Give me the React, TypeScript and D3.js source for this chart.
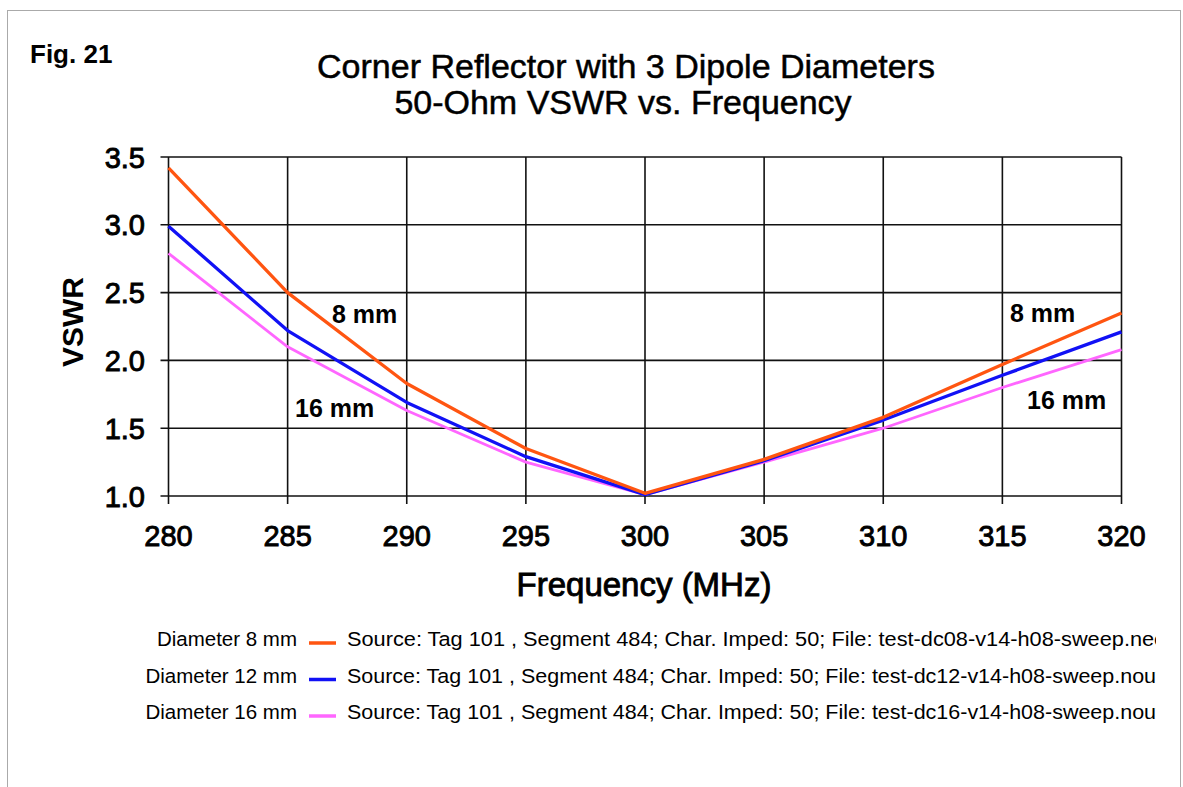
import React from "react";
import * as d3 from "d3";

const freqs = [280, 285, 290, 295, 300, 305, 310, 315, 320];
const vswr8 = [3.42, 2.5, 1.83, 1.35, 1.02, 1.27, 1.58, 1.97, 2.35];
const vswr12 = [2.99, 2.22, 1.69, 1.29, 1.01, 1.26, 1.56, 1.89, 2.21];
const vswr16 = [2.79, 2.1, 1.63, 1.25, 1.01, 1.25, 1.5, 1.8, 2.08];
const xTicks = [280, 285, 290, 295, 300, 305, 310, 315, 320];
const yTicks = [1.0, 1.5, 2.0, 2.5, 3.0, 3.5];
const seriesNames = ["Diameter 8 mm", "Diameter 12 mm", "Diameter 16 mm"];
const seriesSources = [
  "Source: Tag 101 , Segment 484; Char. Imped: 50; File: test-dc08-v14-h08-sweep.nec",
  "Source: Tag 101 , Segment 484; Char. Imped: 50; File: test-dc12-v14-h08-sweep.nout",
  "Source: Tag 101 , Segment 484; Char. Imped: 50; File: test-dc16-v14-h08-sweep.nout",
];
const seriesColors = ["#FF5511", "#1111F5", "#FF66FF"];

export default function App() {
  const W = 1183, H = 787;
  const x = d3.scaleLinear().domain([280, 320]).range([168.5, 1121.5]);
  const y = d3.scaleLinear().domain([1.0, 3.5]).range([496, 157]);
  const line = d3
    .line<number>()
    .x((_, i) => x(freqs[i]))
    .y((d) => y(d));
  const series = [vswr8, vswr12, vswr16];
  const font = "'Liberation Sans', Arial, sans-serif";
  const drawOrder = [2, 1, 0];
  const srcLengths = [818, 815, 815];
  return (
    <svg
      width={W}
      height={H}
      style={{ position: "absolute", left: 0, top: 0, background: "#fff" }}
      fontFamily={font}
    >
      <defs>
        <clipPath id="legclip">
          <rect x={0} y={600} width={1156} height={150} />
        </clipPath>
      </defs>
      <rect x={0} y={0} width={W} height={H} fill="#fff" />
      <rect
        x={7.5}
        y={10.5}
        width={1173}
        height={800}
        fill="none"
        stroke="#555"
        strokeWidth={1}
        strokeDasharray="1,1"
      />
      <text x={30} y={63} fontSize={26} fontWeight="bold" fill="#000">
        Fig. 21
      </text>
      <text x={626} y={78} fontSize={34} textAnchor="middle" fill="#000" stroke="#000" strokeWidth={0.5}>
        Corner Reflector with 3 Dipole Diameters
      </text>
      <text x={623} y={114} fontSize={34} textAnchor="middle" fill="#000" stroke="#000" strokeWidth={0.5}>
        50-Ohm VSWR vs. Frequency
      </text>
      {yTicks.map((t) => (
        <line key={"gy" + t} x1={x(280) - 8} x2={x(320)} y1={y(t)} y2={y(t)} stroke="#111" strokeWidth={1.6} />
      ))}
      {xTicks.map((t) => (
        <line key={"gx" + t} x1={x(t)} x2={x(t)} y1={y(3.5)} y2={y(1.0) + 8} stroke="#111" strokeWidth={1.6} />
      ))}
      {yTicks.map((t) => (
        <text
          key={"ty" + t}
          x={145}
          y={y(t) + 10.5}
          fontSize={29}
          textAnchor="end"
          fill="#000"
          stroke="#000"
          strokeWidth={0.9}
        >
          {t.toFixed(1)}
        </text>
      ))}
      {xTicks.map((t) => (
        <text
          key={"tx" + t}
          x={x(t)}
          y={546}
          fontSize={29}
          textAnchor="middle"
          fill="#000"
          stroke="#000"
          strokeWidth={0.9}
        >
          {t}
        </text>
      ))}
      <text x={644} y={596} fontSize={33} textAnchor="middle" fill="#000" stroke="#000" strokeWidth={0.9}>
        Frequency (MHz)
      </text>
      <text
        transform={`translate(83,322) rotate(-90)`}
        fontSize={30}
        fontWeight="bold"
        textAnchor="middle"
        fill="#000"
      >
        VSWR
      </text>
      {drawOrder.map((si) => (
        <path
          key={"s" + si}
          d={line(series[si]) || ""}
          fill="none"
          stroke={seriesColors[si]}
          strokeWidth={si === 2 ? 2.8 : 3.3}
          strokeLinejoin="round"
        />
      ))}
      <text x={332} y={323} fontSize={25} fontWeight="bold" fill="#000">8 mm</text>
      <text x={295} y={417} fontSize={25} fontWeight="bold" fill="#000">16 mm</text>
      <text x={1010} y={322} fontSize={25} fontWeight="bold" fill="#000">8 mm</text>
      <text x={1027} y={409} fontSize={25} fontWeight="bold" fill="#000">16 mm</text>
      {seriesNames.map((n, i) => {
        const yy = 646 + i * 36.5;
        return (
          <g key={"leg" + i}>
            <text x={297} y={yy} fontSize={20.5} textAnchor="end" fill="#000">
              {n}
            </text>
            <line x1={309} x2={336} y1={yy - 3} y2={yy - 3} stroke={seriesColors[i]} strokeWidth={3.5} />
            <text
              x={347}
              y={yy}
              fontSize={20.5}
              fill="#000"
              clipPath="url(#legclip)"
              textLength={srcLengths[i]}
              lengthAdjust="spacingAndGlyphs"
            >
              {seriesSources[i]}
            </text>
          </g>
        );
      })}
    </svg>
  );
}
